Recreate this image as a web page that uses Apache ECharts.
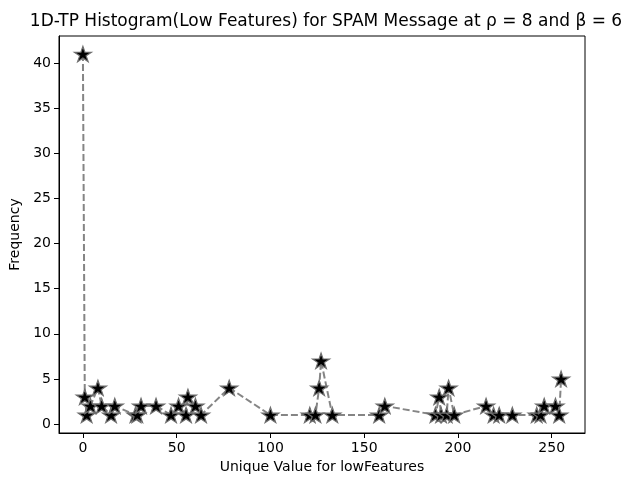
<!DOCTYPE html>
<html>
<head>
<meta charset="utf-8">
<script src="https://cdn.jsdelivr.net/npm/echarts@6/dist/echarts.min.js"></script>
<style>
html,body{margin:0;padding:0;background:#fff;}
#chart{width:634px;height:481px;}
</style>
</head>
<body>
<div id="chart"></div>
<script>
// Unique values (x) and their frequencies (y)
var uniqueValues = [0,1,2,4,8,10,15,17,28,29,31,39,47,51,55,56,60,63,78,100,121,124,126,127,133,158,161,188,190,191,194,195,198,215,219,222,229,242,244,246,252,254,255];
var frequencies  = [41,3,1,2,4,2,1,2,1,1,2,2,1,2,1,3,2,1,4,1,1,1,4,7,1,1,2,1,3,1,1,4,1,2,1,1,1,1,1,2,2,1,5];
var xTicks = [0,50,100,150,200,250];
var yTicks = [0,5,10,15,20,25,30,35,40];

var titleText = '1D-TP Histogram(Low Features) for SPAM Message at \u03c1 = 8 and \u03b2 = 6';
var xName = 'Unique Value for lowFeatures';
var yName = 'Frequency';

var starPath = 'path://M100,0 L122.45,69.1 L195.1,69.1 L136.3,111.8 L158.8,180.9 L100,138.2 L41.2,180.9 L63.7,111.8 L4.9,69.1 L77.55,69.1 Z';

var data = uniqueValues.map(function(v,i){ return [v, frequencies[i]]; });
var font = 'DejaVu Sans';

var chart = echarts.init(document.getElementById('chart'), null, {renderer:'canvas'});
chart.setOption({
  animation:false,
  backgroundColor:'#fff',
  title:{
    text:titleText,
    left:321, top:8, textAlign:'center',
    textStyle:{fontFamily:font,fontSize:17,fontWeight:'normal',color:'#000'}
  },
  grid:{left:58,right:49,top:36,bottom:48,show:true,borderColor:'#000',borderWidth:1,backgroundColor:'transparent'},
  xAxis:{
    type:'value', min:-12.75, max:267.75,
    name:xName, nameLocation:'middle', nameGap:27,
    nameTextStyle:{fontFamily:font,fontSize:14,color:'#000'},
    axisLine:{show:true,onZero:false,lineStyle:{color:'#000',width:1}},
    axisTick:{show:true,inside:false,length:5,lineStyle:{color:'#000'},customValues:xTicks},
    axisLabel:{fontFamily:font,fontSize:14,color:'#000',margin:8,customValues:xTicks},
    splitLine:{show:false}
  },
  yAxis:{
    type:'value', min:-1, max:43,
    name:yName, nameLocation:'middle', nameGap:37, nameRotate:90,
    nameTextStyle:{fontFamily:font,fontSize:14,color:'#000'},
    axisLine:{show:true,onZero:false,lineStyle:{color:'#000',width:1}},
    axisTick:{show:true,inside:false,length:5,lineStyle:{color:'#000'},customValues:yTicks},
    axisLabel:{fontFamily:font,fontSize:14,color:'#000',margin:8,customValues:yTicks},
    splitLine:{show:false}
  },
  series:[{
    type:'line',
    data:data,
    symbol:starPath,
    symbolSize:[17,16],
    symbolKeepAspect:true,
    showAllSymbol:true,
    lineStyle:{color:'#858585',width:2,type:[7,3]},
    itemStyle:{color:'#000',borderColor:'#6e6e6e',borderWidth:1.2},
    emphasis:{disabled:true}
  }]
});
</script>
</body>
</html>
